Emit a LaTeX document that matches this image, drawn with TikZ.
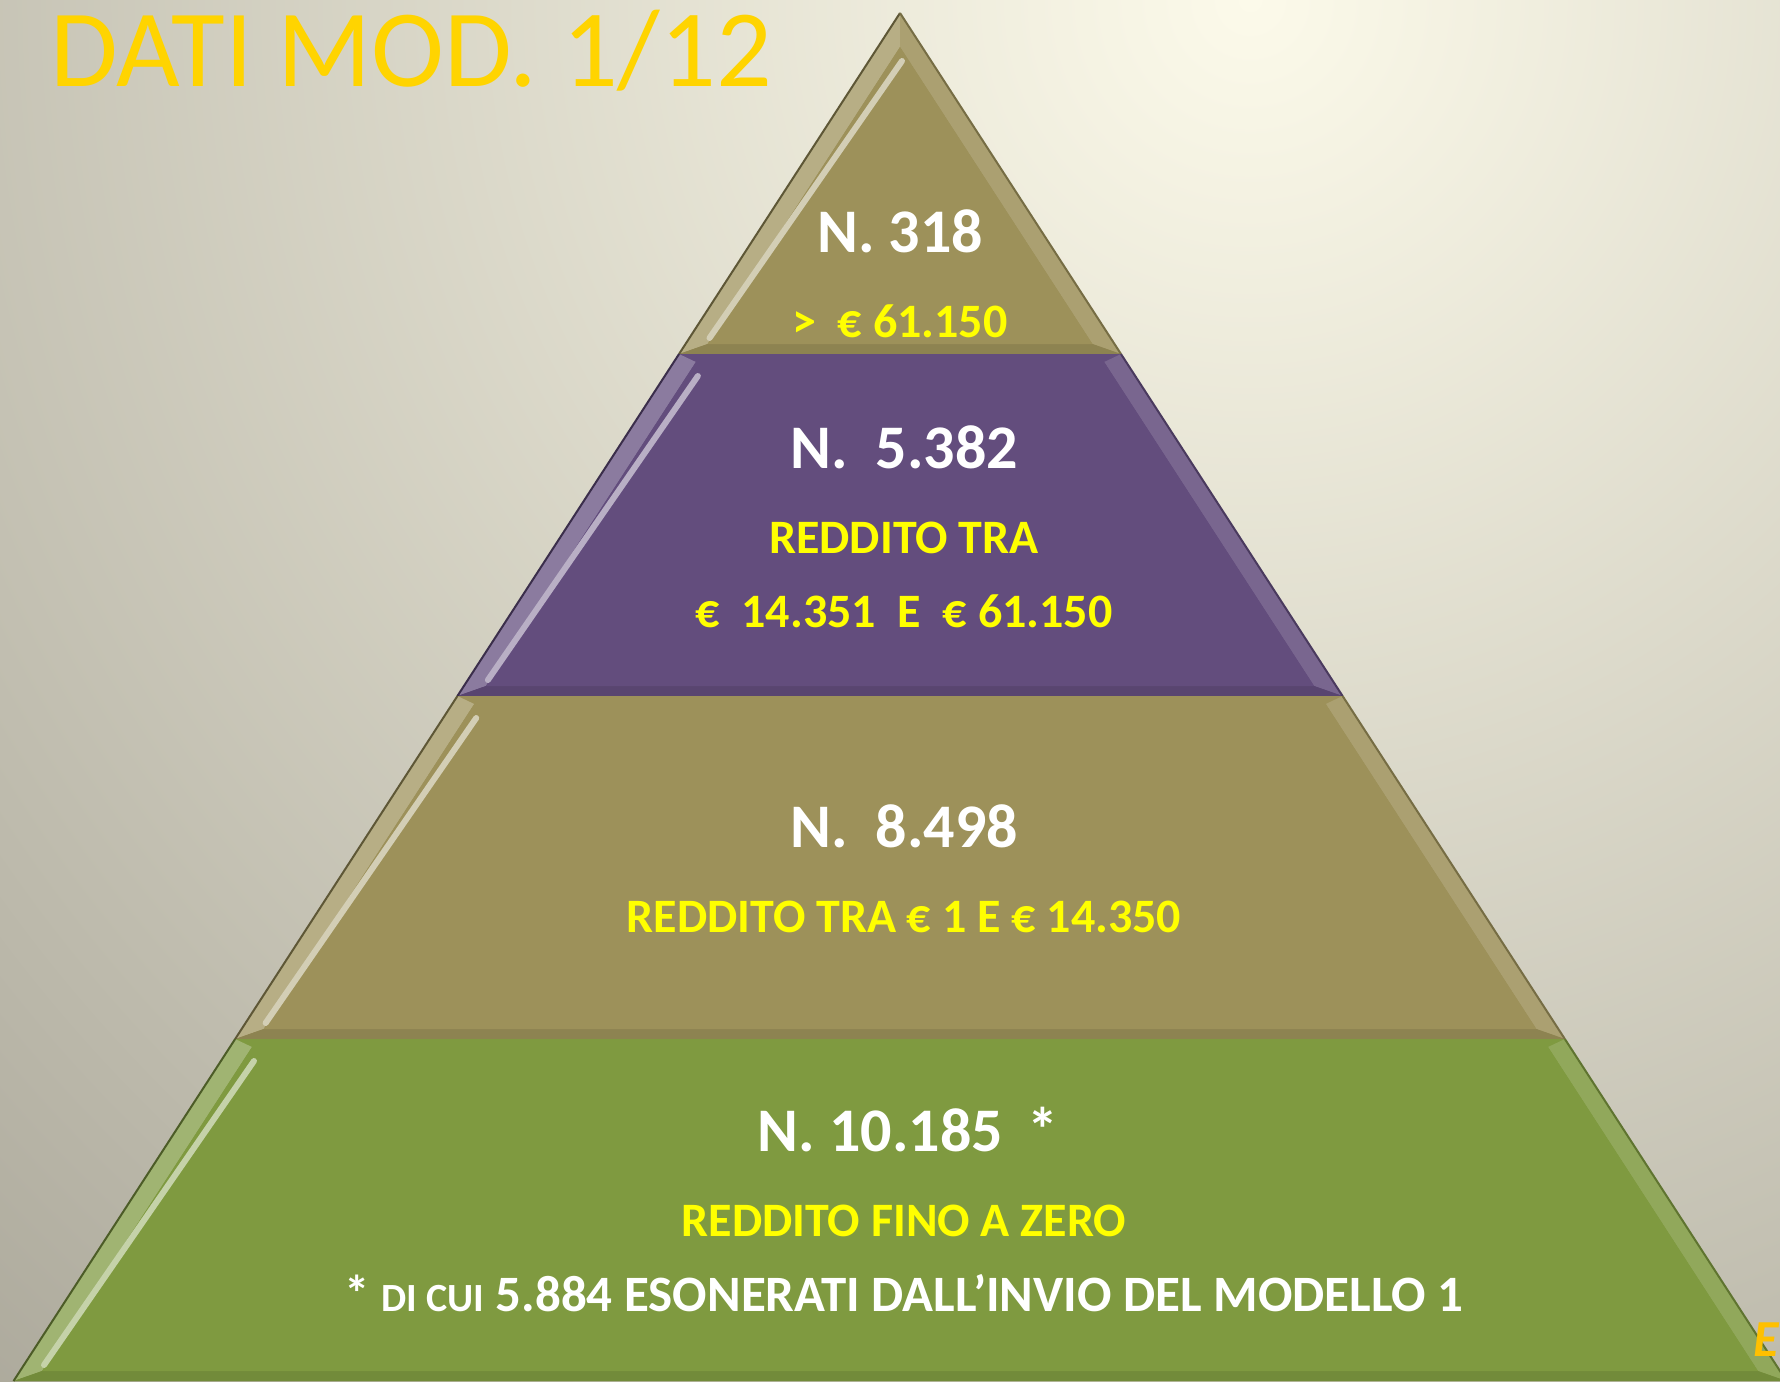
\documentclass[tikz,border=0pt]{standalone}
\usepackage{fontspec}
\setmainfont{Carlito}
\definecolor{tierolive}{RGB}{157,145,90}
\definecolor{tierplum}{RGB}{99,77,125}
\definecolor{tiergrass}{RGB}{127,154,64}
\definecolor{bglight}{RGB}{252,250,234}
\definecolor{bgdark}{RGB}{122,118,106}
\definecolor{txtyellow}{RGB}{255,255,0}
\definecolor{titlegold}{RGB}{255,212,0}
\definecolor{cornerorange}{RGB}{255,192,0}
\tikzset{
    every node/.style={inner sep=0pt, anchor=base}
}
\tikzset{num/.style={text=white, font=\bfseries\fontsize{31}{31}\selectfont}}
\tikzset{band/.style={text=txtyellow, font=\bfseries\fontsize{24}{24}\selectfont}}
\tikzset{title/.style={anchor=base west, text=titlegold, font=\fontsize{55}{55}\selectfont}}

\begin{document}
\begin{tikzpicture}[x=0.5pt, y=-0.5pt]
        \useasboundingbox (0,0) rectangle (1780,1381);
        \begin{scope}
                \clip (0,0) rectangle (1780,1381);
                \shade[inner color=bglight, outer color=bgdark] (1250,0) circle (3100);
        \end{scope}
        % pyramid tiers: top y / bottom y / top bevel / colour
        \foreach \yt/\yb/\dt/\c in {13/354/34/tierolive, 354/696/8/tierplum, 696/1039/8/tierolive, 1039/1381/8/tiergrass}{
                \pgfmathsetmacro\xt{0.648*(\yt-13)}
                \pgfmathsetmacro\xb{0.648*(\yb-13)}
                \pgfmathsetmacro\xti{0.648*(\yt+\dt-13)-22}
                \pgfmathsetmacro\xbi{0.648*(\yb-10-13)-22}
                \fill[\c] (900-\xt,\yt) -- (900+\xt,\yt) -- (900+\xb,\yb) -- (900-\xb,\yb) -- cycle;
                \fill[\c!74!white] (900-\xt,\yt) -- (900-\xb,\yb) -- (900-\xbi,\yb-10) -- (900-\xti,\yt+\dt) -- cycle;
                \fill[\c!86!white] (900+\xt,\yt) -- (900+\xb,\yb) -- (900+\xbi,\yb-10) -- (900+\xti,\yt+\dt) -- cycle;
                \fill[\c!90!black] (900-\xb,\yb) -- (900+\xb,\yb) -- (900+\xbi,\yb-10) -- (900-\xbi,\yb-10) -- cycle;
                \fill[\c] (900-\xti,\yt+\dt) -- (900+\xti,\yt+\dt) -- (900+\xbi,\yb-10) -- (900-\xbi,\yb-10) -- cycle;
                \draw[\c!45!white, line width=3, line cap=round] (900-\xti+2,\yt+\dt+14) -- (900-\xbi+2,\yb-16);
                \draw[\c!60!black, line width=1] (900-\xt,\yt) -- (900-\xb,\yb);
                \draw[\c!75!black, line width=1] (900+\xt,\yt) -- (900+\xb,\yb);
        }
        \node (title) [title] at (50, 86) {DATI MOD. 1/12};
        % top tier
        \node (t1n) [num] at (900, 252) {N. 318};
        \node (t1a) [band] at (900, 337) {>\ \ € 61.150};
        % second tier
        \node (t2n) [num] at (904, 468) {N.\ \ 5.382};
        \node (t2a) [band] at (904, 553) {REDDITO TRA};
        \node (t2b) [band] at (904, 627) {€\ \ 14.351\ \ E\ \ € 61.150};
        % third tier
        \node (t3n) [num] at (904, 847) {N.\ \ 8.498};
        \node (t3a) [band] at (904, 932) {REDDITO TRA € 1 E € 14.350};
        % bottom tier
        \node (t4n) [num] at (908, 1151) {N. 10.185 \,*};
        \node (t4a) [band] at (904, 1236) {REDDITO FINO A ZERO};
        \node (t4b) [band, text=white, font=\bfseries\fontsize{25.5}{25.5}\selectfont] at (904, 1311) {*\ {\fontsize{20}{20}\selectfont DI CUI} 5.884 ESONERATI DALL’INVIO DEL MODELLO 1};
        \node (corner) [anchor=base west, text=cornerorange, font=\bfseries\itshape\fontsize{26}{26}\selectfont] at (1753, 1356) {E};
\end{tikzpicture}
\end{document}
